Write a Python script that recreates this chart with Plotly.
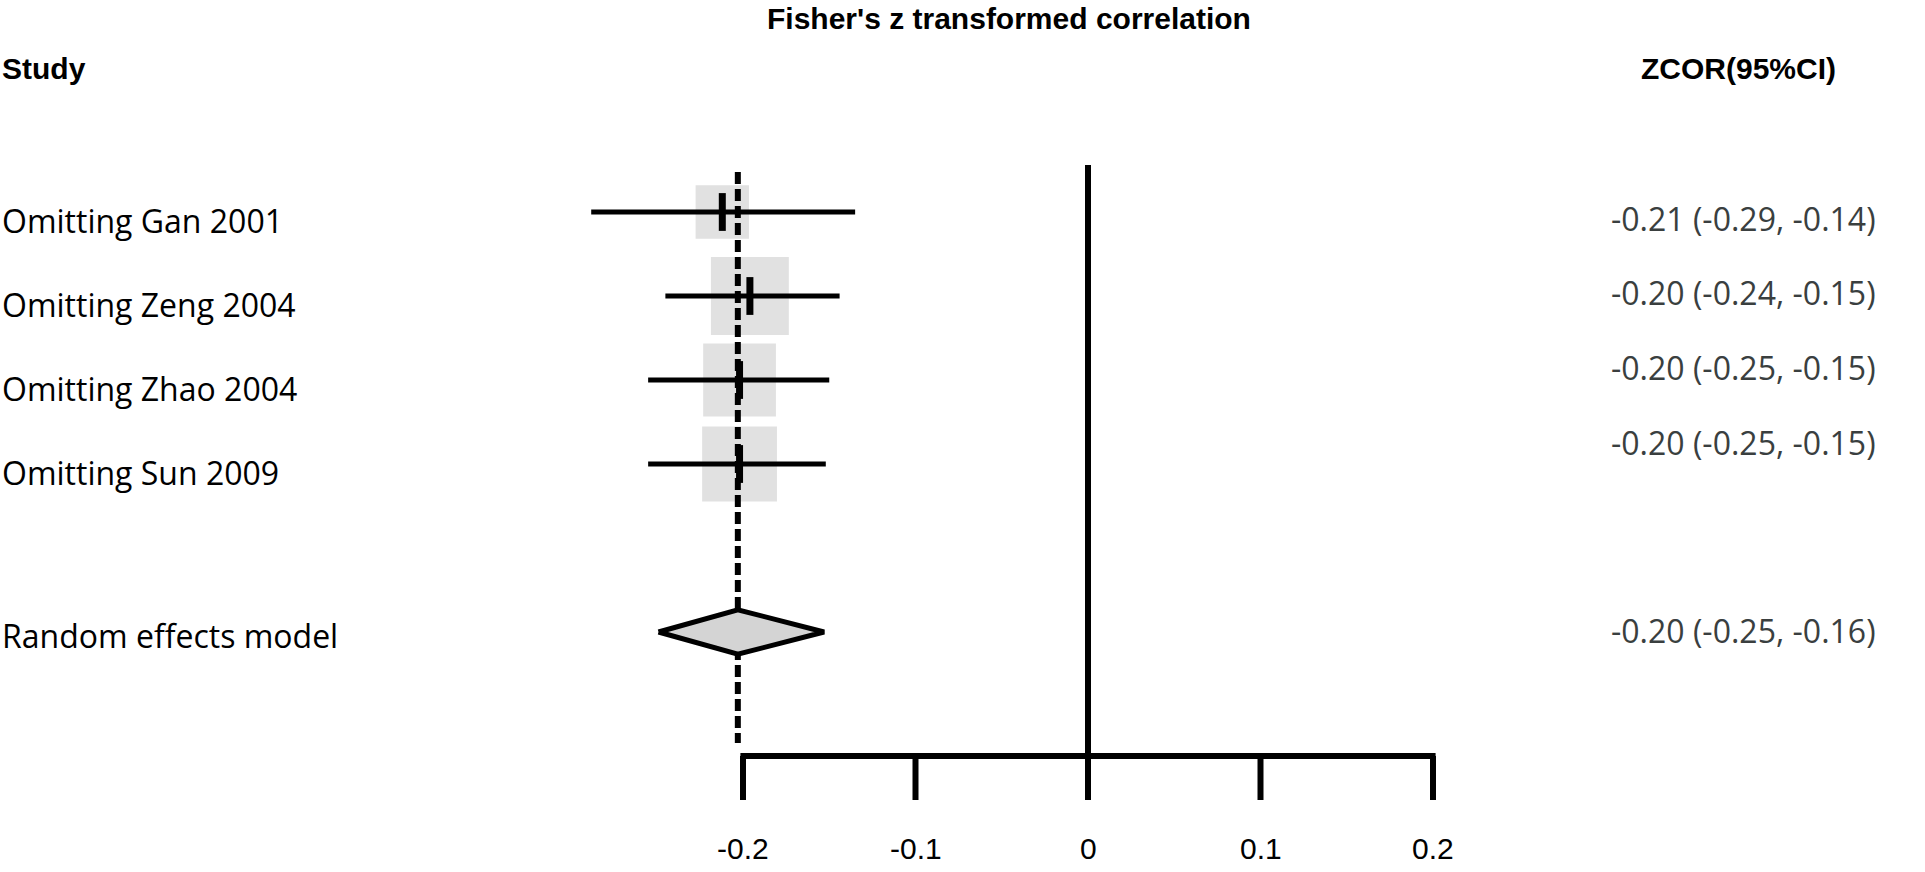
import math
import plotly.graph_objects as go

# ---------------- data ----------------
studies = ["Omitting Gan 2001", "Omitting Zeng 2004", "Omitting Zhao 2004", "Omitting Sun 2009"]
est = [-0.212, -0.196, -0.202, -0.202]
lo = [-0.288, -0.245, -0.255, -0.255]
hi = [-0.135, -0.144, -0.150, -0.152]
weights = [18.8, 40.1, 35.0, 37.0]
ci_labels = ["-0.21 (-0.29, -0.14)", "-0.20 (-0.24, -0.15)", "-0.20 (-0.25, -0.15)", "-0.20 (-0.25, -0.15)"]

summary_name = "Random effects model"
summary_est = -0.203
summary_lo = -0.249
summary_hi = -0.153
summary_label = "-0.20 (-0.25, -0.16)"

x_ticks = [-0.2, -0.1, 0, 0.1, 0.2]
x_tick_labels = ["-0.2", "-0.1", "0", "0.1", "0.2"]

title_text = "Fisher's z transformed correlation"
left_header = "Study"
right_header = "ZCOR(95%CI)"

# ---------------- layout helpers ----------------
W, H = 1925, 872
X0_PX, PX_PER_UNIT = 1088, 1725.0
Y0_PX, ROW_PX = 212, 84.0
x_range = [(0 - X0_PX) / PX_PER_UNIT, (W - X0_PX) / PX_PER_UNIT]
y_range = [(H - Y0_PX) / ROW_PX, (0 - Y0_PX) / ROW_PX]


def px2row(py):
    return (py - Y0_PX) / ROW_PX


rows = list(range(len(studies)))
summary_row = len(studies) + 1
axis_row = px2row(756)
tick_bottom = px2row(800)
tick_label_row = px2row(848)

narrow = "Liberation Sans, Arial, sans-serif"
humanist = "Open Sans, Noto Sans, sans-serif"

fig = go.Figure()

# weight squares
fig.add_trace(go.Scatter(
    x=est, y=rows, mode="markers",
    marker=dict(symbol="square", size=[12.3 * math.sqrt(w) for w in weights],
                color="#d4d4d4", line=dict(width=0)),
    hoverinfo="skip", showlegend=False))

# CI lines
cx, cy = [], []
for r, a, b in zip(rows, lo, hi):
    cx += [a, b, None]
    cy += [r, r, None]
fig.add_trace(go.Scatter(x=cx, y=cy, mode="lines", line=dict(color="black", width=5),
                         hoverinfo="skip", showlegend=False))

# point estimates
fig.add_trace(go.Scatter(
    x=est, y=rows, mode="markers",
    marker=dict(symbol="line-ns", size=27, line=dict(width=7, color="black")),
    hoverinfo="skip", showlegend=False))

# summary dashed line
fig.add_trace(go.Scatter(
    x=[summary_est, summary_est], y=[px2row(172), px2row(743)], mode="lines",
    line=dict(color="black", width=6, dash="12px,5px"),
    hoverinfo="skip", showlegend=False))

# diamond
hh = 0.265
fig.add_trace(go.Scatter(
    x=[summary_lo, summary_est, summary_hi, summary_est, summary_lo],
    y=[summary_row, summary_row - hh, summary_row, summary_row + hh, summary_row],
    mode="lines", fill="toself", fillcolor="#d4d4d4",
    line=dict(color="black", width=5), hoverinfo="skip", showlegend=False))

# zero line
fig.add_shape(type="line", x0=0, x1=0, y0=px2row(165), y1=axis_row,
              line=dict(color="black", width=6))

# axis
fig.add_shape(type="line", x0=x_ticks[0] - 0.0015, x1=x_ticks[-1] + 0.0015, y0=axis_row, y1=axis_row,
              line=dict(color="black", width=6))
for t, lab in zip(x_ticks, x_tick_labels):
    fig.add_shape(type="line", x0=t, x1=t, y0=axis_row, y1=tick_bottom,
                  line=dict(color="black", width=6))
    fig.add_annotation(x=t, y=tick_label_row, text=lab, showarrow=False,
                       xanchor="center", yanchor="middle",
                       font=dict(family=narrow, size=30, color="black"))

# left labels
for r, s in zip(rows, studies):
    fig.add_annotation(x=0, xref="paper", y=r + 0.1, text=s, showarrow=False,
                       xanchor="left", yanchor="middle",
                       font=dict(family=humanist, size=32, color="black"))
fig.add_annotation(x=0, xref="paper", y=summary_row + 0.04, text=summary_name, showarrow=False,
                   xanchor="left", yanchor="middle",
                   font=dict(family=humanist, size=32, color="black"))

# right labels
right_x = 1609 / W
for r, s in zip(rows, ci_labels):
    fig.add_annotation(x=right_x, xref="paper", y=px2row(218 + 74.7 * r), text=s, showarrow=False,
                       xanchor="left", yanchor="middle",
                       font=dict(family=humanist, size=32, color="#3a3f3f"))
fig.add_annotation(x=right_x, xref="paper", y=px2row(630), text=summary_label, showarrow=False,
                   xanchor="left", yanchor="middle",
                   font=dict(family=humanist, size=32, color="#3a3f3f"))

# headers
fig.add_annotation(x=1009 / W, xref="paper", y=px2row(18), text="<b>%s</b>" % title_text,
                   showarrow=False, xanchor="center", yanchor="middle",
                   font=dict(family=narrow, size=30, color="black"))
fig.add_annotation(x=0, xref="paper", y=px2row(68), text="<b>%s</b>" % left_header,
                   showarrow=False, xanchor="left", yanchor="middle",
                   font=dict(family=narrow, size=30, color="black"))
fig.add_annotation(x=1738 / W, xref="paper", y=px2row(68), text="<b>%s</b>" % right_header,
                   showarrow=False, xanchor="center", yanchor="middle",
                   font=dict(family=narrow, size=30, color="black"))

fig.update_layout(
    width=W, height=H,
    margin=dict(l=0, r=0, t=0, b=0),
    paper_bgcolor="white", plot_bgcolor="white",
    xaxis=dict(range=x_range, visible=False, fixedrange=True),
    yaxis=dict(range=y_range, visible=False, fixedrange=True),
    showlegend=False,
)

fig.write_html("out.html", config={"displayModeBar": False},
               post_script="document.body.style.margin='0px';document.body.style.overflow='hidden';")
